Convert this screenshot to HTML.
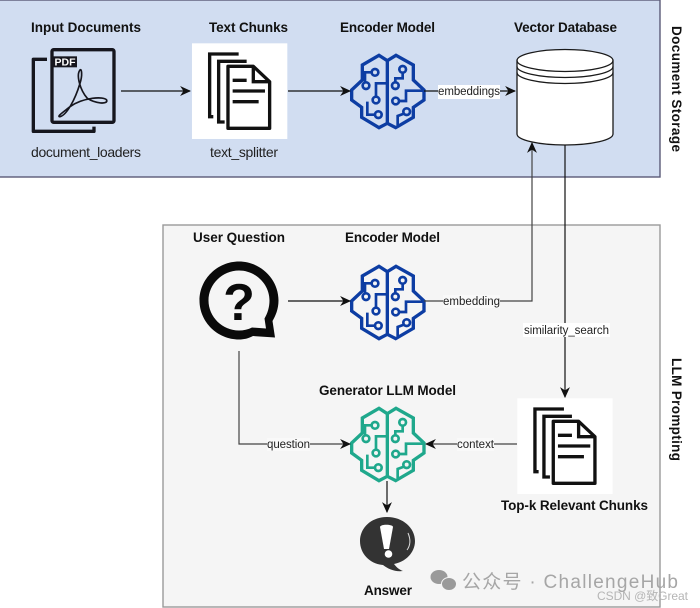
<!DOCTYPE html>
<html><head><meta charset="utf-8">
<style>
html,body{margin:0;padding:0;background:#fff;width:700px;height:608px;overflow:hidden}
svg{display:block}
text{font-family:"Liberation Sans","Noto Sans CJK SC",sans-serif;fill:#111}
.b{font-weight:bold;font-size:13.5px}
.l{font-size:14px;fill:#222}
.s{font-size:11.5px;fill:#222}
</style></head>
<body>
<svg width="700" height="608" viewBox="0 0 700 608" xmlns="http://www.w3.org/2000/svg">
<defs>
<g id="brain" fill="none" stroke-width="10" stroke-linejoin="miter">
<path d="M172 92L147 76L97 105V150L65 180V210L95 232V262L147 293L172 280L197 293L250 262V232L282 210V180L250 150V105L198 76Z"/>
<path d="M172 92V280"/>
<g stroke-width="8">
<path d="M125 127H105V157"/><circle cx="135" cy="127" r="10"/><circle cx="108" cy="167" r="10"/>
<path d="M218 128V145H196V157"/><circle cx="218" cy="118" r="10"/><circle cx="196" cy="167" r="10"/>
<path d="M138 200V160H172"/><circle cx="138" cy="210" r="10"/>
<path d="M135 254H112V215"/><circle cx="145" cy="254" r="10"/>
<path d="M207 213H228V182H282"/><circle cx="197" cy="213" r="10"/>
<path d="M222 251L203 258V285"/><circle cx="230" cy="245" r="10"/>
</g>
</g>
<g id="chunks">
<rect x="576" y="130" width="286" height="287" fill="#fff"/>
<g fill="none" stroke="#111" stroke-width="10">
<path d="M716 162H629V350H640"/>
<path d="M740 184H656V366H674"/>
<path d="M684 199H760L809 245V385H684Z" stroke-linejoin="round"/>
<path d="M760 199V245H809"/>
<path d="M698 241H740M698 273H795M698 305H776"/>
</g>
</g>
<marker id="a" viewBox="0 0 10 10" refX="9" refY="5" markerWidth="11" markerHeight="11" markerUnits="userSpaceOnUse" orient="auto">
<path d="M0 0.5L10 5L0 9.500L3 5Z" fill="#111"/>
</marker>
</defs>

<rect x="-2" y="0" width="662" height="177" fill="#d1ddf1" stroke="#5a5a78" stroke-width="1.4"/>
<rect x="163" y="225" width="497" height="382" fill="#f5f5f5" stroke="#9a9a9a" stroke-width="1.4"/>

<!-- doc icon -->
<g transform="scale(.3333)" fill="none" stroke="#16161e" stroke-width="10">
<path d="M141 178H100V394H282V380" stroke-linejoin="round"/>
<rect x="156" y="149" width="186" height="218" rx="5"/>
<rect x="160" y="169" width="71" height="33" fill="#16161e" stroke="none"/>
<path d="M240 210C228 225 240 270 262 295C285 310 325 315 320 300C312 288 250 292 210 320C185 340 170 350 180 350C200 345 225 300 240 250C248 225 245 205 240 210Z" stroke-width="5"/>
</g>
<text x="54.500" y="65.500" font-weight="bold" font-size="10.500" style="fill:#fff" textLength="21">PDF</text>

<use href="#chunks" transform="scale(.3333)"/>
<use href="#chunks" transform="translate(325.3 355) scale(.3333)"/>

<!-- cylinder -->
<g fill="#fff" stroke="#1a1a1a" stroke-width="1.3">
<path d="M517 60.500A48 11 0 0 1 613 60.500V134A48 11 0 0 1 517 134Z"/>
<path d="M517 60.500A48 11 0 0 0 613 60.500" fill="none"/>
<path d="M517 66.500A48 11 0 0 0 613 66.500" fill="none"/>
<path d="M517 72.500A48 11 0 0 0 613 72.500" fill="none"/>
</g>

<!-- brains -->
<g transform="translate(330 30) scale(.3333)" stroke="#0d3da3"><use href="#brain"/></g>
<g transform="translate(330 241) scale(.3333)" stroke="#0d3da3"><use href="#brain"/></g>
<g transform="translate(330 383) scale(.3333)" stroke="#1fa88c"><use href="#brain"/></g>

<!-- question bubble -->
<path d="M239 261.500C260.500 261.500 278.500 279 278.500 300.500C278.500 309 275.500 316 272.500 321L275 337.500L253 336C248 338.500 244 339.500 239 339.500C217.500 339.500 199.500 322 199.500 300.500C199.500 279 217.500 261.500 239 261.500ZM239 270.500C222.500 270.500 208.500 284 208.500 300.500C208.500 317 222.500 330.500 239 330.500C243.500 330.500 248 329.500 252 327.500L266 328.500L264.500 318.500C267.500 313.500 269.500 307 269.500 300.500C269.500 284 255.500 270.500 239 270.500Z" fill="#0a0a0a" fill-rule="evenodd"/>
<text x="239" y="320" text-anchor="middle" font-weight="bold" font-size="52" style="fill:#0a0a0a">?</text>

<!-- answer bubble -->
<path d="M387 517C403 517 415 528 415 541C415 553 405 562 394 564C397 568 400 570 403 571C395 572 388 569 383 565C370 564 360 554 360 541C360 528 371 517 387 517Z" fill="#333"/>
<path d="M380 527C380 524 393 524 393 527L389 549H384Z" fill="#fff"/>
<circle cx="388.500" cy="554" r="3.800" fill="#fff"/>
<path d="M408 533C411 540 410 546 407 550" fill="none" stroke="#ddd" stroke-width="1"/>

<!-- connectors -->
<g fill="none" stroke="#111" stroke-width="1.200">
<path d="M121 91H190" marker-end="url(#a)"/>
<path d="M288 91H350" marker-end="url(#a)"/>
<path d="M424 91H515" marker-end="url(#a)"/>
<path d="M288 301H350" marker-end="url(#a)"/>
<path d="M424 301H532V143" stroke="#444" marker-end="url(#a)"/>
<path d="M565 145V397" marker-end="url(#a)"/>
<path d="M239 351V444H350" stroke="#444" marker-end="url(#a)"/>
<path d="M517 444H426" stroke="#444" marker-end="url(#a)"/>
<path d="M387 481V512" marker-end="url(#a)"/>
</g>

<!-- edge labels -->
<rect x="438" y="85" width="62" height="14" fill="#fff"/>
<rect x="443" y="295" width="57" height="13" fill="#f9f9f9"/>
<rect x="523" y="323" width="87" height="14" fill="#fff"/>
<rect x="267" y="438" width="43" height="13" fill="#f9f9f9"/>
<rect x="457" y="438" width="37" height="13" fill="#f9f9f9"/>
<text class="s" x="438" y="95" textLength="62">embeddings</text>
<text class="s" x="443" y="305" textLength="57">embedding</text>
<text class="s" x="524" y="334" textLength="85">similarity_search</text>
<text class="s" x="267" y="448" textLength="43">question</text>
<text class="s" x="457" y="448" textLength="37">context</text>

<!-- titles -->
<text class="b" x="31" y="32" textLength="110">Input Documents</text>
<text class="b" x="209" y="32" textLength="79">Text Chunks</text>
<text class="b" x="340" y="32" textLength="95">Encoder Model</text>
<text class="b" x="514" y="32" textLength="103">Vector Database</text>
<text class="l" x="31" y="157" textLength="110">document_loaders</text>
<text class="l" x="210" y="157" textLength="68">text_splitter</text>
<text class="b" x="193" y="242" textLength="92">User Question</text>
<text class="b" x="345" y="242" textLength="95">Encoder Model</text>
<text class="b" x="319" y="395" textLength="137">Generator LLM Model</text>
<text class="b" x="501" y="510" textLength="147">Top-k Relevant Chunks</text>
<text class="b" x="364" y="595" textLength="48">Answer</text>
<text class="b" transform="translate(672 26) rotate(90)" textLength="126">Document Storage</text>
<text class="b" transform="translate(672 358) rotate(90)" textLength="103">LLM Prompting</text>

<!-- watermark -->
<g fill="#9a9a9a">
<ellipse cx="439" cy="577" rx="8.500" ry="7"/>
<ellipse cx="449" cy="584" rx="7.500" ry="6.500" stroke="#f5f5f5" stroke-width="1"/>
</g>
<text x="462" y="588" textLength="216" style="fill:#a6a6a6;font-size:19px">公众号 · ChallengeHub</text>
<text x="597" y="600" textLength="91" style="fill:#b5b5b5;font-size:12px">CSDN @致Great</text>
</svg>
</body></html>
